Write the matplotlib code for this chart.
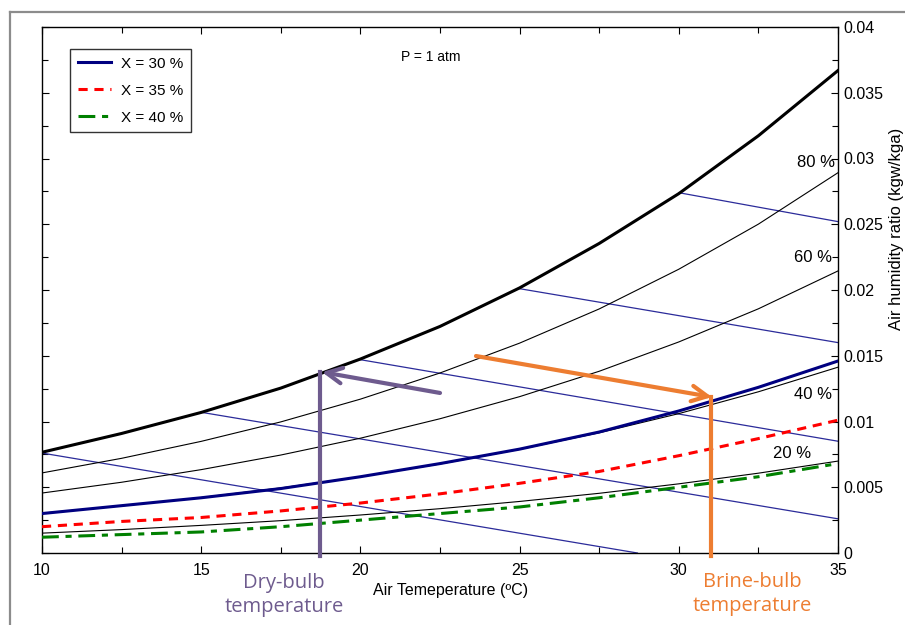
import matplotlib
matplotlib.use("Agg")
import matplotlib.pyplot as plt
from matplotlib.lines import Line2D
from matplotlib.ticker import MultipleLocator, FuncFormatter

plt.rcParams['font.family'] = ['Liberation Sans', 'DejaVu Sans']

# ---------------- data ----------------
temps = [10, 12.5, 15, 17.5, 20, 22.5, 25, 27.5, 30, 32.5, 35]
w_sat = [0.00766, 0.00909, 0.01069, 0.01254, 0.01475, 0.01723, 0.02016, 0.02354, 0.02733, 0.03173, 0.03669]
w_rh80 = [0.00609, 0.00720, 0.00849, 0.00997, 0.01170, 0.01369, 0.01596, 0.01856, 0.02158, 0.02501, 0.02892]
w_rh60 = [0.00456, 0.00538, 0.00634, 0.00745, 0.00873, 0.01021, 0.01189, 0.01382, 0.01605, 0.01857, 0.02145]
w_rh40 = [0.00303, 0.00358, 0.00422, 0.00495, 0.00580, 0.00677, 0.00788, 0.00914, 0.01060, 0.01226, 0.01413]
w_rh20 = [0.00151, 0.00178, 0.00210, 0.00246, 0.00289, 0.00337, 0.00392, 0.00454, 0.00526, 0.00607, 0.00699]
w_x30 = [0.0030, 0.0036, 0.0042, 0.0049, 0.0058, 0.0068, 0.0079, 0.0092, 0.0108, 0.0126, 0.0146]
w_x35 = [0.0020, 0.0024, 0.0027, 0.0032, 0.0038, 0.0045, 0.0053, 0.0062, 0.0074, 0.0087, 0.0101]
w_x40 = [0.0012, 0.0014, 0.0016, 0.0020, 0.0025, 0.0030, 0.0035, 0.0042, 0.0050, 0.0058, 0.0068]
rh_labels = ["80 %", "60 %", "40 %", "20 %"]
rh_label_T = [34.31, 34.21, 34.21, 33.55]
rh_label_w = [0.02973, 0.02244, 0.01202, 0.00760]
legend_labels = ["X = 30 %", "X = 35 %", "X = 40 %"]

# constant-enthalpy lines: (T_start, w_start, T_end, w_end)
enth_T0 = [30.0, 25.0, 20.0, 15.0, 10.0]
enth_w0 = [0.0274, 0.0201, 0.0147, 0.0107, 0.0076]
enth_T1 = [35.0, 35.0, 35.0, 35.0, 28.7]
enth_w1 = [0.0252, 0.0160, 0.0085, 0.0026, 0.0]

# annotation points (T, w)
dry_arrow = [(22.5, 0.01217), (18.79, 0.01376)]
dry_T = 18.73
brine_arrow = [(23.63, 0.01498), (31.04, 0.01186)]
brine_T = 31.0

xticks = [10, 15, 20, 25, 30, 35]
yticks = [0, 0.005, 0.01, 0.015, 0.02, 0.025, 0.03, 0.035, 0.04]

# ---------------- figure ----------------
fig = plt.figure(figsize=(9.05, 6.25), dpi=100)
ax = fig.add_axes([42/905, 1-553/625, (838-42)/905, (553-27)/625])

# outer gray frame
fig.add_artist(Line2D([10/905, 10/905], [0, 1-12/625], transform=fig.transFigure, color='#8c8c8c', lw=1.6))
fig.add_artist(Line2D([10/905, 1], [1-12/625, 1-12/625], transform=fig.transFigure, color='#8c8c8c', lw=1.6))

# enthalpy lines
for t0, w0, t1, w1 in zip(enth_T0, enth_w0, enth_T1, enth_w1):
    ax.plot([t0, t1], [w0, w1], color='#2b2b9a', lw=0.9, zorder=2)

# RH lines
for w in (w_rh80, w_rh60, w_rh40, w_rh20):
    ax.plot(temps, w, color='black', lw=0.8, zorder=2)
ax.plot(temps, w_sat, color='black', lw=2.2, zorder=3)

l1, = ax.plot(temps, w_x30, color='#000080', lw=2.2, zorder=4)
l2, = ax.plot(temps, w_x35, color='#ff0000', lw=2.2, dashes=(3, 2.2), zorder=4)
l3, = ax.plot(temps, w_x40, color='#008000', lw=2.2, dashes=(5.5, 2.2, 2, 2.2), zorder=4)

# RH labels
for lab, tx, ty in zip(rh_labels, rh_label_T, rh_label_w):
    ax.text(tx, ty, lab, fontsize=12, ha='center', va='center')

ax.text(22.2, 0.03775, "P = 1 atm", fontsize=10, ha='center', va='center')

leg = ax.legend([l1, l2, l3], legend_labels, loc='upper left', bbox_to_anchor=(0.0352, 0.958),
                borderaxespad=0, fontsize=11, frameon=True, fancybox=False, edgecolor='black',
                handlelength=2.15, borderpad=0.5, labelspacing=0.85, handletextpad=0.7)
leg.get_frame().set_linewidth(1.0)

# arrows
purple = '#6e5b8e'
orange = '#ed7d31'
ax.annotate('', xy=dry_arrow[1], xytext=dry_arrow[0],
            arrowprops=dict(arrowstyle='->', color=purple, lw=3, mutation_scale=28, shrinkA=0, shrinkB=0), zorder=6)
ax.plot([dry_T, dry_T], [dry_arrow[1][1], -0.0002], color=purple, lw=3, clip_on=False, zorder=6)
ax.annotate('', xy=brine_arrow[1], xytext=brine_arrow[0],
            arrowprops=dict(arrowstyle='->', color=orange, lw=3, mutation_scale=28, shrinkA=0, shrinkB=0), zorder=6)
ax.plot([brine_T, brine_T], [brine_arrow[1][1], -0.0002], color=orange, lw=3, clip_on=False, zorder=6)

fig.text(284/905, 1-595/625, "Dry-bulb\ntemperature", color=purple, fontsize=14.5,
         ha='center', va='center', linespacing=1.3, family=['Open Sans', 'DejaVu Sans'])
fig.text(752/905, 1-594/625, "Brine-bulb\ntemperature", color=orange, fontsize=14.5,
         ha='center', va='center', linespacing=1.3, family=['Open Sans', 'DejaVu Sans'])

# axes
ax.set_xlim(10, 35)
ax.set_ylim(0, 0.04)
ax.set_xticks(xticks)
ax.xaxis.set_minor_locator(MultipleLocator(2.5))
ax.set_yticks(yticks)
ax.yaxis.set_minor_locator(MultipleLocator(0.0025))
ax.yaxis.set_major_formatter(FuncFormatter(lambda v, p: f"{v:g}"))
ax.tick_params(which='both', direction='in', top=True, right=True, left=True, bottom=True,
               labelleft=False, labelright=True, labelsize=11.5, width=0.8)
ax.tick_params(which='major', length=5)
ax.tick_params(axis='x', which='major', pad=7)
ax.tick_params(axis='y', which='major', pad=4)
ax.tick_params(which='minor', length=4)
for s in ax.spines.values():
    s.set_linewidth(1.0)

fig.text(451/905, 1-591/625, "Air Temeperature (ºC)", fontsize=11.5, ha='center', va='center')
fig.text(896/905, 1-229/625, "Air humidity ratio (kgw/kga)", fontsize=12, ha='center', va='center', rotation=90)

fig.savefig("out.png", dpi=100)
